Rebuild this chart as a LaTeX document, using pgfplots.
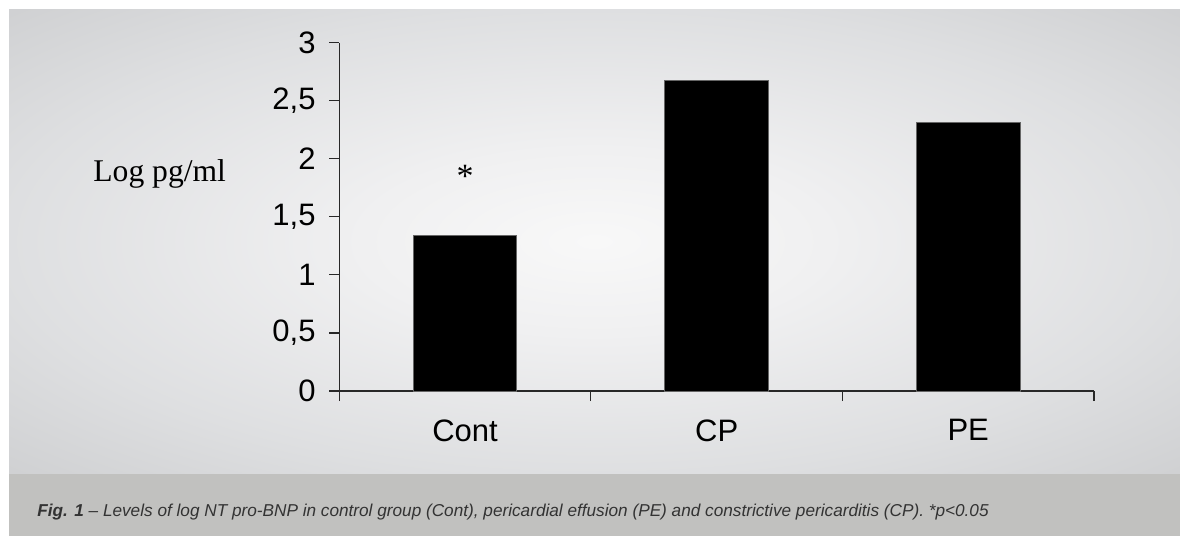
\documentclass[border=0pt]{standalone}
\usepackage{fontspec}
\setmainfont{Liberation Sans}
\newfontfamily\timesfont{Liberation Serif}
\usepackage{graphicx}
\usepackage{pgfplots}
\pgfplotsset{compat=1.18}
\definecolor{capband}{RGB}{193,193,191}
\definecolor{axcol}{RGB}{40,40,40}
\pgfdeclareradialshading{bgshade}{\pgfpoint{0bp}{0bp}}{%
  rgb(0bp)=(0.973,0.973,0.973);
  rgb(10bp)=(0.941,0.941,0.945);
  rgb(25bp)=(0.871,0.875,0.882);
  rgb(35bp)=(0.816,0.820,0.827);
  rgb(50bp)=(0.816,0.820,0.827)}
\begin{document}
\begin{tikzpicture}
\fill[white] (0pt,0pt) rectangle (590pt,-268pt);
\shade[shading=bgshade] (4.5pt,-4.5pt) rectangle (590pt,-237pt);
\fill[capband] (4.5pt,-237pt) rectangle (590pt,-268pt);
\node[anchor=base west, inner sep=0pt, text=black!80] at (18.5pt,-258pt)
  {\fontsize{8.6}{10}\selectfont\itshape\textbf{Fig. 1} -- Levels of log NT pro-BNP in control group (Cont), pericardial effusion (PE) and constrictive pericarditis (CP). *p{<}0.05};
\node[anchor=base west, inner sep=0pt] at (46.5pt,-90.85pt) {\timesfont\fontsize{15.8}{16}\selectfont Log pg/ml};
\begin{axis}[
  at={(169.65pt,-195.5pt)}, anchor=south west,
  scale only axis, width=377.35pt, height=174.25pt,
  xmin=0, xmax=3, ymin=0, ymax=3,
  axis lines=left,
  axis line style={axcol, line width=0.6pt, -},
  every tick/.style={axcol, line width=0.6pt},
  tick align=outside,
  major tick length=5pt,
  ybar, bar width=51.8pt,
  xtick={0,1,2,3}, xticklabels={,,,},
  extra x ticks={0.5,1.5,2.5},
  extra x tick labels={Cont,CP,PE},
  extra x tick style={major tick length=0pt, tick style={draw=none}},
  ytick={0,0.5,...,3},
  /pgf/number format/use comma,
  /pgf/number format/assume math mode=true,
  ticklabel style={font=\fontsize{15.5}{16}\selectfont, text=black},
  yticklabel style={anchor=east, inner sep=0pt, xshift=-6.7pt},
  xticklabel style={anchor=north, inner sep=0pt, yshift=-14pt},
]
\addplot[fill=black, draw=black!60, line width=0.5pt] coordinates {(0.5,1.34) (1.5,2.67) (2.5,2.31)};
\node[anchor=base, inner sep=0pt] at (axis cs:0.5,1.754) {\timesfont\fontsize{17}{17}\selectfont *};
\end{axis}
\end{tikzpicture}
\end{document}
